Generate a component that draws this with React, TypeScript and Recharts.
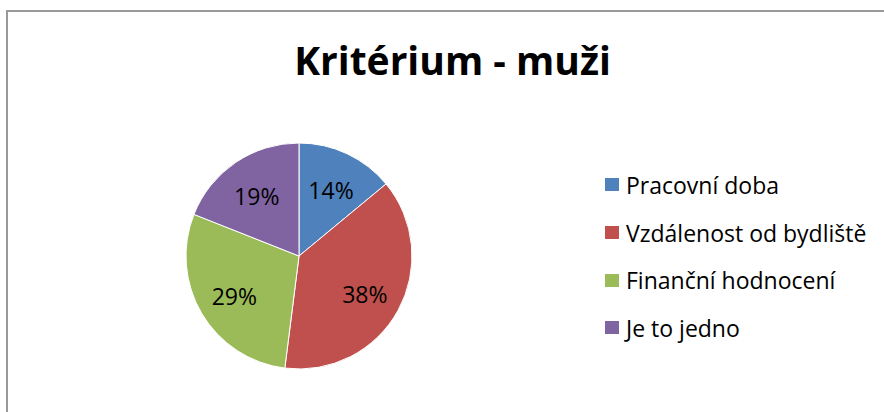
import React from "react";
import { PieChart, Pie, Cell, Legend } from "recharts";

const categories = ["Pracovní doba", "Vzdálenost od bydliště", "Finanční hodnocení", "Je to jedno"];
const values = [14, 38, 29, 19];
const colors = ["#4F81BD", "#C0504D", "#9BBB59", "#8064A2"];
const title = "Kritérium - muži";

const data = categories.map((name, i) => ({ name, value: values[i] }));

const FONT = "'Open Sans', Lato, sans-serif";
const RAD = Math.PI / 180;

const renderLabel = (props: any) => {
  const { cx, cy, midAngle, outerRadius, percent } = props;
  const r = outerRadius * 0.665;
  const x = cx + r * Math.cos(-midAngle * RAD);
  const y = cy + r * Math.sin(-midAngle * RAD);
  return (
    <text
      x={x}
      y={y + 2}
      textAnchor="middle"
      dominantBaseline="central"
      fill="#000"
      style={{ fontFamily: FONT, fontSize: 23 }}
    >
      {Math.round(percent * 100) + "%"}
    </text>
  );
};

const renderLegend = () => (
  <div style={{ fontFamily: FONT, fontSize: 23, color: "#000" }}>
    {categories.map((c, i) => (
      <div key={c} style={{ display: "flex", alignItems: "center", height: 47.7 }}>
        <span
          style={{
            display: "inline-block",
            width: 14,
            height: 13,
            background: colors[i],
            marginRight: 7,
          }}
        />
        <span style={{ lineHeight: "24px" }}>{c}</span>
      </div>
    ))}
  </div>
);

export default function App() {
  return (
    <div style={{ position: "absolute", left: 0, top: 0, width: 884, height: 412, background: "#fff", overflow: "hidden" }}>
      <div
        style={{
          position: "absolute",
          left: 6,
          top: 10,
          width: 920,
          height: 440,
          border: "2px solid #9a9a9a",
          boxSizing: "border-box",
        }}
      />
      <div
        style={{
          position: "absolute",
          left: 0,
          width: 905,
          top: 34,
          textAlign: "center",
          fontFamily: FONT,
          fontWeight: 700,
          fontSize: 39,
          lineHeight: "52px",
          color: "#000",
        }}
      >
        {title}
      </div>
      <div style={{ position: "absolute", left: 0, top: 0 }}>
        <PieChart width={884} height={412} margin={{ top: 0, right: 0, bottom: 0, left: 0 }}>
          <Pie
            data={data}
            dataKey="value"
            nameKey="name"
            cx={299}
            cy={256}
            outerRadius={113}
            startAngle={90}
            endAngle={-270}
            stroke="#ffffff"
            strokeWidth={1}
            label={renderLabel}
            labelLine={false}
            isAnimationActive={false}
          >
            {data.map((d, i) => (
              <Cell key={d.name} fill={colors[i]} />
            ))}
          </Pie>
          <Legend
            layout="vertical"
            content={renderLegend}
            wrapperStyle={{ left: 605, top: 161, width: 279, bottom: "auto", right: "auto" }}
          />
        </PieChart>
      </div>
    </div>
  );
}
